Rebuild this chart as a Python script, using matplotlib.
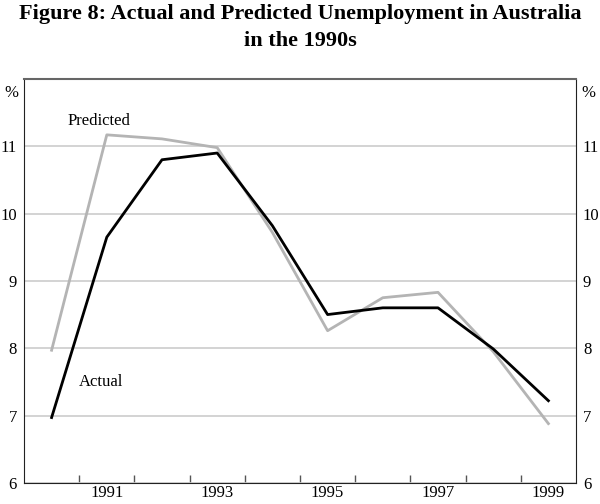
import matplotlib.pyplot as plt

years = [1990, 1991, 1992, 1993, 1994, 1995, 1996, 1997, 1998, 1999]
actual = [6.97, 9.65, 10.80, 10.90, 9.82, 8.50, 8.60, 8.60, 7.99, 7.22]
predicted = [7.97, 11.17, 11.11, 10.98, 9.72, 8.26, 8.75, 8.83, 7.95, 6.88]
label_years = [1991, 1993, 1995, 1997, 1999]
y_ticks = [6, 7, 8, 9, 10, 11]

plt.rcParams['font.family'] = ['Liberation Serif', 'DejaVu Serif']

fig = plt.figure(figsize=(6, 5.04), dpi=100)
ax = fig.add_axes([0.04, 0.042, 0.92, 0.8013])

ax.plot(years, predicted, color='#b4b4b4', lw=2)
ax.plot(years, actual, color='black', lw=2)

ax.set_xlim(1989.5, 1999.5)
ax.set_ylim(6, 12)

# year boundaries as small inward ticks, labels centred on the year
ax.set_xticks([y + 0.5 for y in years[:-1]], minor=True)
ax.set_xticks(label_years)
ax.set_xticklabels([str(y) for y in label_years])
ax.tick_params(axis='x', which='minor', direction='in', length=6, width=1, color='#555555')
ax.tick_params(axis='x', which='major', length=0, pad=1.5, labelsize=12)

ax.set_yticks(y_ticks)
ax.tick_params(axis='y', which='both', length=0, labelsize=12, pad=5,
               labelleft=True, labelright=True)
ax.yaxis.grid(True, color='#cccccc', lw=1.2)
ax.set_axisbelow(True)

for side in ['left', 'right', 'bottom']:
    ax.spines[side].set_color('#222222')
ax.spines['top'].set_color('#666666')
ax.spines['top'].set_linewidth(1.5)

ax.text(-0.01, 0.985, '%', transform=ax.transAxes, ha='right', va='top', fontsize=12)
ax.text(1.01, 0.985, '%', transform=ax.transAxes, ha='left', va='top', fontsize=12)

ax.text(1990.85, 11.25, 'Predicted', fontsize=12, ha='center', va='bottom')
ax.text(1990.9, 7.5, 'Actual', fontsize=12, ha='center', va='center')

fig.suptitle('Figure 8: Actual and Predicted Unemployment in Australia\nin the 1990s',
             fontsize=16, fontweight='bold', y=0.992, linespacing=1.45)

fig.savefig('out.png', dpi=100)
